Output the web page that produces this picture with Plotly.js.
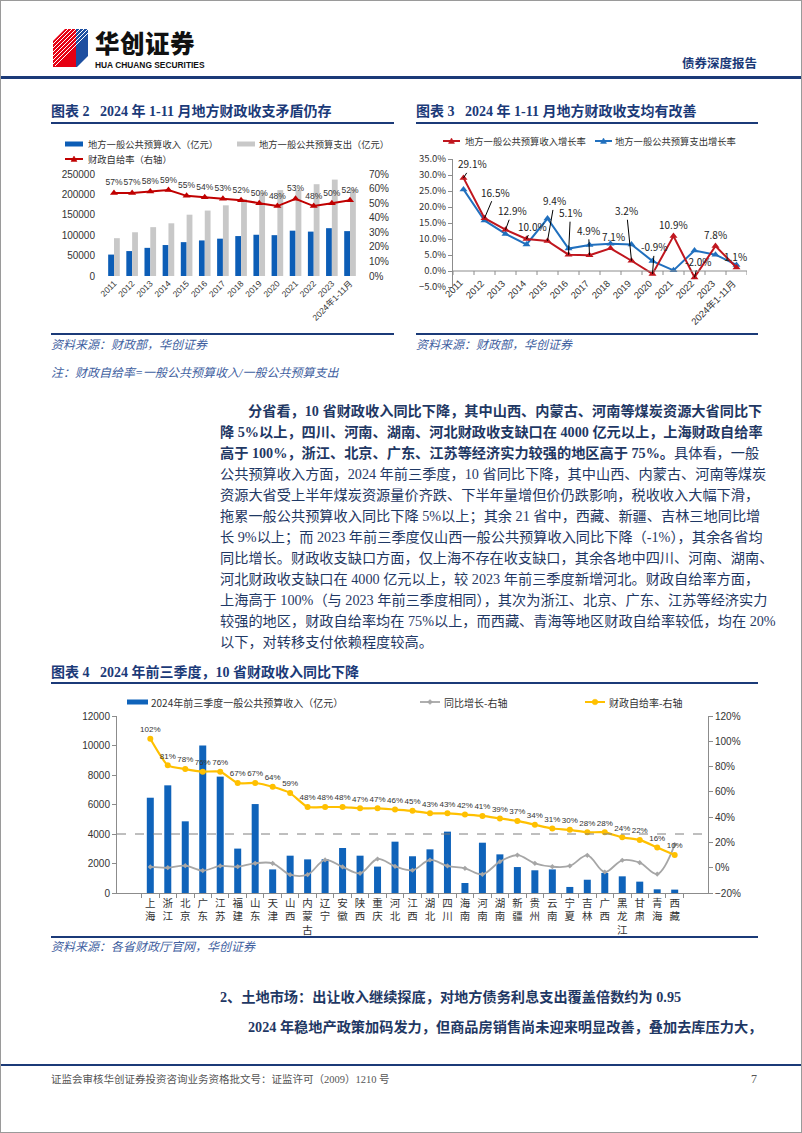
<!DOCTYPE html>
<html><head><meta charset="utf-8">
<script src="https://cdn.plot.ly/plotly-3.0.1.min.js"></script>
<style>
html,body{margin:0;padding:0;background:#fff;}
#page{position:relative;width:802px;height:1133px;overflow:hidden;background:#fff;font-family:"Liberation Serif","Noto Sans CJK SC",serif;}
.abs{position:absolute;white-space:nowrap;}
.title{font-size:14px;font-weight:700;line-height:16px;color:#1B3A78;}
.src{font-size:12px;font-style:italic;line-height:14px;color:#3F5F9F;}
.hline{position:absolute;background:#1B3A78;}
.body{position:absolute;left:220px;width:538px;font-size:14.2px;line-height:20px;height:20px;color:#1F3864;white-space:nowrap;text-align:justify;text-align-last:justify;}
.b{font-weight:700;}
.chart{position:absolute;}
#frame{position:absolute;left:0;top:0;width:800px;height:1131px;border:1px solid #9a9a9a;pointer-events:none;}
</style></head>
<body>
<div id="page">
  <!-- header -->
  <svg class="abs" style="left:53px;top:29px" width="36" height="38" viewBox="0 0 36 38">
    <polygon points="0,12 12,0 23,0 23,38 0,38" fill="#E60012"/>
    <polygon points="23,0 35,0 35,27 24,38 23,38" fill="#1E4FA0"/>
    <g stroke="#fff" stroke-width="1">
      <line x1="0" y1="15" x2="15" y2="0"/><line x1="0" y1="19" x2="19" y2="0"/>
      <line x1="0" y1="23" x2="23" y2="0"/><line x1="0" y1="27" x2="27" y2="0"/>
      <line x1="0" y1="31" x2="31" y2="0"/><line x1="0" y1="35" x2="35" y2="0"/>
      <line x1="2" y1="37" x2="35" y2="4"/>
    </g>
  </svg>
  <div class="abs" style="left:95px;top:30px;font-family:'Noto Sans CJK SC';font-weight:900;font-size:24.5px;line-height:25px;height:25px;color:#111;letter-spacing:0.5px;">华创证券</div>
  <div class="abs" style="left:95px;top:61px;font-family:'Liberation Sans Narrow','Liberation Sans';font-weight:700;font-size:8.4px;line-height:9px;color:#111;">HUA CHUANG SECURITIES</div>
  <div class="abs" style="right:45px;top:55px;font-family:'Noto Sans CJK SC';font-weight:700;font-size:12.5px;line-height:16px;color:#1B3A78;">债券深度报告</div>
  <div class="hline" style="left:0;top:76px;width:802px;height:3px;"></div>

  <!-- chart titles -->
  <div class="abs title" style="left:51px;top:104px;">图表 2&nbsp;&nbsp;&nbsp;2024 年 1-11 月地方财政收支矛盾仍存</div>
  <div class="abs title" style="left:416px;top:104px;">图表 3&nbsp;&nbsp;&nbsp;2024 年 1-11 月地方财政收支均有改善</div>
  <div class="hline" style="left:51px;top:122px;width:343px;height:2px;"></div>
  <div class="hline" style="left:416px;top:122px;width:342px;height:2px;"></div>

  <div id="c2" class="chart" style="left:40px;top:130px;width:360px;height:200px;"></div>
  <div id="c3" class="chart" style="left:415px;top:130px;width:370px;height:200px;"></div>

  <div class="hline" style="left:51px;top:333px;width:343px;height:1.5px;"></div>
  <div class="hline" style="left:416px;top:333px;width:342px;height:1.5px;"></div>
  <div class="abs src" style="left:51px;top:338px;">资料来源：财政部，华创证券</div>
  <div class="abs src" style="left:416px;top:338px;">资料来源：财政部，华创证券</div>
  <div class="abs src" style="left:51px;top:366px;">注：财政自给率=一般公共预算收入/一般公共预算支出</div>

  <!-- body text -->
  <div class="body b" style="top:401px;left:248px;width:510px;">分省看，10 省财政收入同比下降，其中山西、内蒙古、河南等煤炭资源大省同比下</div>
  <div class="body b" style="top:422px;">降 5%以上，四川、河南、湖南、河北财政收支缺口在 4000 亿元以上，上海财政自给率</div>
  <div class="body" style="top:443px;"><span class="b">高于 100%，浙江、北京、广东、江苏等经济实力较强的地区高于 75%。</span>具体看，一般</div>
  <div class="body" style="top:464px;">公共预算收入方面，2024 年前三季度，10 省同比下降，其中山西、内蒙古、河南等煤炭</div>
  <div class="body" style="top:485px;">资源大省受上半年煤炭资源量价齐跌、下半年量增但价仍跌影响，税收收入大幅下滑，</div>
  <div class="body" style="top:506px;">拖累一般公共预算收入同比下降 5%以上；其余 21 省中，西藏、新疆、吉林三地同比增</div>
  <div class="body" style="top:527px;">长 9%以上；而 2023 年前三季度仅山西一般公共预算收入同比下降（-1%），其余各省均</div>
  <div class="body" style="top:548px;">同比增长。财政收支缺口方面，仅上海不存在收支缺口，其余各地中四川、河南、湖南、</div>
  <div class="body" style="top:569px;">河北财政收支缺口在 4000 亿元以上，较 2023 年前三季度新增河北。财政自给率方面，</div>
  <div class="body" style="top:590px;">上海高于 100%（与 2023 年前三季度相同），其次为浙江、北京、广东、江苏等经济实力</div>
  <div class="body" style="top:611px;">较强的地区，财政自给率均在 75%以上，而西藏、青海等地区财政自给率较低，均在 20%</div>
  <div class="body" style="top:632px;text-align:left;text-align-last:left;">以下，对转移支付依赖程度较高。</div>

  <div class="abs title" style="left:51px;top:665px;">图表 4&nbsp;&nbsp;&nbsp;2024 年前三季度，10 省财政收入同比下降</div>
  <div class="hline" style="left:51px;top:682px;width:707px;height:2px;"></div>

  <div id="c4" class="chart" style="left:40px;top:690px;width:745px;height:246px;"></div>

  <div class="hline" style="left:51px;top:936px;width:707px;height:1.5px;"></div>
  <div class="abs src" style="left:51px;top:940px;">资料来源：各省财政厅官网，华创证券</div>

  <div class="body b" style="top:987px;left:220px;text-align:left;text-align-last:left;">2、土地市场：出让收入继续探底，对地方债务利息支出覆盖倍数约为 0.95</div>
  <div class="body b" style="top:1017px;left:248px;width:510px;">2024 年稳地产政策加码发力，但商品房销售尚未迎来明显改善，叠加去库压力大，</div>

  <div class="hline" style="left:0;top:1064px;width:802px;height:2px;"></div>
  <div class="abs" style="left:51px;top:1073px;font-size:10.5px;line-height:14px;color:#555;">证监会审核华创证券投资咨询业务资格批文号：证监许可（2009）1210 号</div>
  <div class="abs" style="right:45px;top:1072px;font-size:12px;line-height:15px;color:#555;">7</div>
  <div id="frame"></div>
</div>

<script>
// ================= DATA =================
// Chart 2
const c2Years = ['2011','2012','2013','2014','2015','2016','2017','2018','2019','2020','2021','2022','2023','2024年1-11月'];
const c2Revenue = [52500, 61100, 69000, 75900, 83000, 87200, 91500, 97900, 101100, 100100, 111100, 108800, 117200, 110000];
const c2Expenditure = [92700, 107200, 119700, 129200, 150300, 160400, 173200, 188200, 203700, 210600, 211300, 225000, 236300, 212000];
const c2Ratio = [57, 57, 58, 59, 55, 54, 53, 52, 50, 48, 53, 48, 50, 52];
const c2Names = ['地方一般公共预算收入（亿元）', '地方一般公共预算支出（亿元）', '财政自给率（右轴）'];

// Chart 3
const c3Years = ['2011','2012','2013','2014','2015','2016','2017','2018','2019','2020','2021','2022','2023','2024年1-11月'];
const c3RevGrowth = [29.1, 16.5, 12.9, 10.0, 9.4, 5.1, 4.9, 7.1, 3.2, -0.9, 10.9, -2.0, 7.8, 1.1];
const c3ExpGrowth = [25.5, 15.8, 11.6, 8.3, 16.4, 7.0, 8.1, 8.5, 8.3, 3.1, 0.2, 6.4, 5.1, 1.9];
const c3Names = ['地方一般公共预算收入增长率', '地方一般公共预算支出增长率'];

// Chart 4
const c4Provinces = ['上海','浙江','北京','广东','江苏','福建','山东','天津','山西','内蒙古','辽宁','安徽','陕西','重庆','河北','江西','湖北','四川','海南','河南','湖南','新疆','贵州','云南','宁夏','吉林','广西','黑龙江','甘肃','青海','西藏'];
const c4Revenue = [6460, 7300, 4860, 10000, 7890, 3010, 6030, 1600, 2530, 2280, 2290, 3050, 2530, 1790, 3480, 2490, 2960, 4160, 680, 3410, 2620, 1760, 1540, 1600, 410, 900, 1360, 1130, 770, 250, 230];
const c4YoY = [0.6, 0.0, 1.6, -2.3, 1.4, 0.8, 3.5, 3.5, -5.5, -5.5, 6.2, 0.6, -4.4, 6.9, 1.1, -2.0, 6.1, 1.4, -0.5, -5.2, 4.8, 10.0, 3.5, 0.8, 1.4, 9.8, -3.4, 5.9, 4.0, -5.0, 18.3];
const c4Ratio = [102, 81, 78, 76, 76, 67, 67, 64, 59, 48, 48, 48, 47, 47, 46, 45, 43, 43, 42, 41, 39, 37, 34, 31, 30, 28, 28, 24, 22, 16, 10];
const c4Threshold = 4000;
const c4Names = ['2024年前三季度一般公共预算收入（亿元）', '同比增长-右轴', '财政自给率-右轴'];

// ================= HELPERS (layout only) =================
const FONT = 'Liberation Sans, Noto Sans CJK SC, sans-serif';
const CJK = 'Noto Sans CJK SC, Liberation Sans, sans-serif';
const cfg = {displayModeBar:false, staticPlot:true};

function conv(g){
  const L = g.left + g.m.l, T = g.top + g.m.t;
  const W = g.w - g.m.l - g.m.r, H = g.h - g.m.t - g.m.b;
  return {x: x => (x - L) / W, y: y => (T + H - y) / H};
}
function lRect(c,x0,x1,y0,y1,color){return {type:'rect',xref:'paper',yref:'paper',x0:c.x(x0),x1:c.x(x1),y0:c.y(y1),y1:c.y(y0),fillcolor:color,line:{width:0},layer:'above'};}
function lLine(c,x0,x1,y,color,w){return {type:'line',xref:'paper',yref:'paper',x0:c.x(x0),x1:c.x(x1),y0:c.y(y),y1:c.y(y),line:{color:color,width:w},layer:'above'};}
function lTri(c,x,y,s,color){return {type:'path',xref:'paper',yref:'paper',path:`M ${c.x(x)} ${c.y(y-s)} L ${c.x(x-s)} ${c.y(y+s*0.8)} L ${c.x(x+s)} ${c.y(y+s*0.8)} Z`,fillcolor:color,line:{color:color,width:0.5},layer:'above'};}
function lDia(c,x,y,s,color){return {type:'path',xref:'paper',yref:'paper',path:`M ${c.x(x)} ${c.y(y-s)} L ${c.x(x+s)} ${c.y(y)} L ${c.x(x)} ${c.y(y+s)} L ${c.x(x-s)} ${c.y(y)} Z`,fillcolor:color,line:{color:color,width:0.5},layer:'above'};}
function lCirc(c,x,y,r,color){return {type:'circle',xref:'paper',yref:'paper',x0:c.x(x-r),x1:c.x(x+r),y0:c.y(y+r),y1:c.y(y-r),fillcolor:color,line:{color:color,width:0.5},layer:'above'};}
function lText(c,x,y,text,size){return {xref:'paper',yref:'paper',x:c.x(x),y:c.y(y),xanchor:'left',yanchor:'middle',text:text,showarrow:false,font:{family:CJK,size:size,color:'#333'}};}

// ================= CHART 2 =================
(function(){
  const g = {left:40, top:130, w:360, h:200, m:{l:56, r:32, t:44, b:54}};
  const c = conv(g);
  const traces = [
    {type:'bar', x:c2Years, y:c2Revenue, name:c2Names[0], marker:{color:'#0C5DB6'}},
    {type:'bar', x:c2Years, y:c2Expenditure, name:c2Names[1], marker:{color:'#C8C8C8'}},
    {type:'scatter', x:c2Years, y:c2Ratio, yaxis:'y2', name:c2Names[2], mode:'lines+markers+text',
     text:c2Ratio.map(v => v + '%'), textposition:'top center', cliponaxis:false,
     textfont:{family:FONT, size:8.5, color:'#333'},
     line:{color:'#C00000', width:2}, marker:{symbol:'triangle-up', size:7, color:'#C00000'}}
  ];
  const layout = {
    width:g.w, height:g.h, margin:g.m, showlegend:false, paper_bgcolor:'#fff', plot_bgcolor:'#fff',
    barmode:'group', bargap:0.36, bargroupgap:0,
    font:{family:FONT, size:10, color:'#333'},
    xaxis:{type:'category', tickangle:-45, tickfont:{size:8.5}, showline:false, ticks:'', showgrid:false},
    yaxis:{range:[0,250000], dtick:50000, tickformat:'d', showgrid:false, zeroline:false, showline:false, tickfont:{size:10}},
    yaxis2:{overlaying:'y', side:'right', range:[0,70], dtick:10, ticksuffix:'%', showgrid:false, zeroline:false, showline:false, tickfont:{size:10}},
    shapes:[
      lRect(c,65,83,141.5,146.5,'#0C5DB6'),
      lRect(c,237,255,141.5,146.5,'#C8C8C8'),
      lLine(c,65,83,159,'#C00000',2), lTri(c,74,159,3,'#C00000')
    ],
    annotations:[
      lText(c,86,144,c2Names[0],9.3), lText(c,257,144,c2Names[1],9.3), lText(c,86,159,c2Names[2],9.3)
    ]
  };
  Plotly.newPlot('c2', traces, layout, cfg);
})();

// ================= CHART 3 =================
(function(){
  const g = {left:415, top:130, w:370, h:200, m:{l:38, r:38, t:29, b:43}};
  const c = conv(g);
  // label offsets in pixels (ax, ay) and whether a leader line is drawn
  const labelOffset = [[9,-14],[11,-26],[7,-19],[6,-13],[7,-40],[2,-42],[-1,-25],[3,-12],[-5,-50],[2,-27],[0,-12],[4,-16],[0,-12],[-1,-11]];
  const leader = [1,1,1,1,1,1,1,0,1,1,0,1,0,0];
  const ann = c3Years.map((yr,i) => {
    const t = c3RevGrowth[i].toFixed(1) + '%';
    const base = {x:i, y:c3RevGrowth[i], xref:'x', yref:'y', text:t, font:{family:CJK, size:10, color:'#222'}};
    if (leader[i]) return Object.assign(base, {showarrow:true, ax:labelOffset[i][0], ay:labelOffset[i][1], arrowhead:0, arrowwidth:1, arrowcolor:'#000', standoff:0});
    return Object.assign(base, {showarrow:false, xshift:labelOffset[i][0], yshift:-labelOffset[i][1]});
  });
  // category labels hanging from the zero line (axis crosses at 0)
  c3Years.forEach((yr,i) => {
    ann.push({x:i, y:0, xref:'x', yref:'y', text:yr, textangle:-45, xanchor:'right', yanchor:'top',
              xshift:4, yshift:-4, showarrow:false, font:{family:FONT, size:9.5, color:'#333'}});
  });
  ann.push(lText(c,463,141,c3Names[0],9.3), lText(c,613,141,c3Names[1],9.3));
  const shapes = [
    {type:'line', xref:'paper', x0:0, x1:1, yref:'y', y0:0, y1:0, line:{color:'#8c8c8c', width:1}},
    lLine(c,443,460,141,'#C0161E',2), lTri(c,451.5,141,3,'#C0161E'),
    lLine(c,595,612,141,'#2170BE',2), lTri(c,603.5,141,3,'#2170BE')
  ];
  for (let i = 0; i <= c3Years.length; i++) {
    shapes.push({type:'line', xref:'x', x0:i-0.5, x1:i-0.5, yref:'y', ysizemode:'pixel', yanchor:0, y0:0, y1:-4,
                 line:{color:'#8c8c8c', width:1}});
  }
  const traces = [
    {type:'scatter', x:c3Years.map((_,i)=>i), y:c3ExpGrowth, name:c3Names[1], mode:'lines+markers',
     line:{color:'#2170BE', width:2}, marker:{symbol:'triangle-up', size:7, color:'#2170BE'}},
    {type:'scatter', x:c3Years.map((_,i)=>i), y:c3RevGrowth, name:c3Names[0], mode:'lines+markers',
     line:{color:'#C0161E', width:2}, marker:{symbol:'triangle-up', size:7, color:'#C0161E'}}
  ];
  const layout = {
    width:g.w, height:g.h, margin:g.m, showlegend:false, paper_bgcolor:'#fff', plot_bgcolor:'#fff',
    font:{family:CJK, size:10, color:'#333'},
    xaxis:{type:'linear', range:[-0.5, c3Years.length - 0.5], showticklabels:false, showline:false, ticks:'', showgrid:false, zeroline:false},
    yaxis:{range:[-5,35], dtick:5, tickformat:'.1f', ticksuffix:'%', showgrid:false, zeroline:false,
           showline:true, linecolor:'#8c8c8c', ticks:'outside', ticklen:4, tickcolor:'#8c8c8c', tickfont:{family:CJK,size:9.5}},
    shapes:shapes,
    annotations:ann
  };
  Plotly.newPlot('c3', traces, layout, cfg);
})();

// ================= CHART 4 =================
(function(){
  const g = {left:40, top:690, w:745, h:246, m:{l:77, r:77, t:26, b:43}};
  const c = conv(g);
  const traces = [
    {type:'bar', x:c4Provinces, y:c4Revenue, name:c4Names[0], marker:{color:'#0F63BA'}},
    {type:'scatter', x:c4Provinces, y:c4YoY, yaxis:'y2', name:c4Names[1], mode:'lines+markers',
     line:{color:'#A6A6A6', width:1.8, shape:'spline', smoothing:1}, marker:{symbol:'diamond', size:4, color:'#A6A6A6'}},
    {type:'scatter', x:c4Provinces, y:c4Ratio, yaxis:'y2', name:c4Names[2], mode:'lines+markers+text',
     text:c4Ratio.map(v => v + '%'), textposition:'top center', cliponaxis:false,
     textfont:{family:FONT, size:8, color:'#333'},
     line:{color:'#FFC000', width:2.2, shape:'spline', smoothing:0.5}, marker:{symbol:'circle', size:6, color:'#FFC000'}}
  ];
  const layout = {
    width:g.w, height:g.h, margin:g.m, showlegend:false, paper_bgcolor:'#fff', plot_bgcolor:'#fff',
    bargap:0.6, font:{family:FONT, size:10, color:'#333'},
    xaxis:{type:'category', tickmode:'array', tickvals:c4Provinces, ticktext:c4Provinces.map(s => s.split('').join('<br>')),
           tickangle:0, tickfont:{family:CJK, size:10.5, color:'#333'}, showline:true, linecolor:'#8c8c8c',
           ticks:'outside', tickson:'boundaries', ticklen:4, tickcolor:'#8c8c8c', showgrid:false},
    yaxis:{range:[0,12000], dtick:2000, tickformat:'d', showgrid:false, zeroline:false, showline:true, linecolor:'#8c8c8c',
           ticks:'outside', ticklen:4, tickcolor:'#8c8c8c', tickfont:{size:10}},
    yaxis2:{overlaying:'y', side:'right', range:[-20,120], dtick:20, ticksuffix:'%', showgrid:false, zeroline:false,
           showline:true, linecolor:'#8c8c8c', ticks:'outside', ticklen:4, tickcolor:'#8c8c8c', tickfont:{size:10}},
    shapes:[
      {type:'line', xref:'paper', x0:0, x1:1, yref:'y', y0:c4Threshold, y1:c4Threshold, line:{color:'#7f7f7f', width:1, dash:'dash'}},
      lRect(c,127,148,699.5,704.5,'#0F63BA'),
      lLine(c,420,440,702,'#A6A6A6',1.8), lDia(c,430,702,2.5,'#A6A6A6'),
      lLine(c,585,605,702,'#FFC000',2), lCirc(c,595,702,2.8,'#FFC000')
    ],
    annotations:[
      lText(c,149,702,c4Names[0],10), lText(c,442,702,c4Names[1],10), lText(c,607,702,c4Names[2],10)
    ]
  };
  Plotly.newPlot('c4', traces, layout, cfg);
})();
</script>
</body></html>
